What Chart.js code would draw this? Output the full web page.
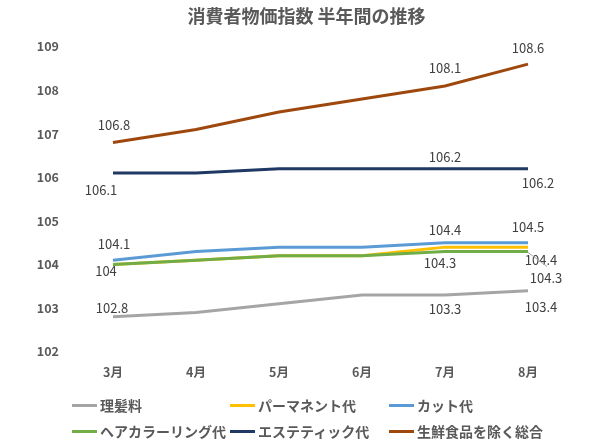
<!DOCTYPE html>
<html>
<head>
<meta charset="utf-8">
<script src="https://cdn.jsdelivr.net/npm/chart.js@4.4.1/dist/chart.umd.min.js"></script>
<style>
  body { margin: 0; background: #fff; }
  #wrap { position: relative; width: 600px; height: 446px; overflow: hidden; }
  #chart { position: absolute; left: 0; top: 0; }
  #title {
    position: absolute; left: 0; top: 5px; width: 613px; text-align: center;
    font: bold 18px/20px "Noto Sans CJK JP", sans-serif; color: #595959;
  }
  .lg {
    position: absolute; display: flex; align-items: center; height: 20px;
    font: bold 14px/20px "Noto Sans CJK JP", sans-serif; color: #595959; white-space: nowrap;
  }
  .lg i { display: inline-block; width: 25px; height: 3px; margin-right: 3px; }
</style>
</head>
<body>
<div id="wrap">
  <canvas id="chart" width="600" height="446"></canvas>
  <div id="title">消費者物価指数 半年間の推移</div>
  <div id="legend"></div>
</div>
<script>
(function () {
  'use strict';

  const months = ['3月', '4月', '5月', '6月', '7月', '8月'];
  const yTicks = [102, 103, 104, 105, 106, 107, 108, 109];

  const rihatsu = [102.8, 102.9, 103.1, 103.3, 103.3, 103.4];
  const permanent = [104.0, 104.1, 104.2, 104.2, 104.4, 104.4];
  const cut = [104.1, 104.3, 104.4, 104.4, 104.5, 104.5];
  const coloring = [104.0, 104.1, 104.2, 104.2, 104.3, 104.3];
  const esthe = [106.1, 106.1, 106.2, 106.2, 106.2, 106.2];
  const sogo = [106.8, 107.1, 107.5, 107.8, 108.1, 108.6];

  // where each value label sits relative to its point (null = no label)
  const series = [
    { label: '理髪料', data: rihatsu, color: '#a5a5a5', order: 6,
      tags: [[-1, -9], null, null, null, [0, 14], [13, 16]] },
    { label: 'パーマネント代', data: permanent, color: '#ffc000', order: 5,
      tags: [null, null, null, null, [0, -17], [13, 13]] },
    { label: 'カット代', data: cut, color: '#5b9bd5', order: 4,
      tags: [[1, -16], null, null, null, null, [0, -16]] },
    { label: 'ヘアカラーリング代', data: coloring, color: '#70ad47', order: 3,
      tags: [[-7, 7], null, null, null, [-5, 12], [18, 27, true]] },
    { label: 'エステティック代', data: esthe, color: '#203864', order: 2,
      tags: [[-12, 17], null, null, null, [0, -12], [10, 14]] },
    { label: '生鮮食品を除く総合', data: sogo, color: '#9e480e', order: 1,
      tags: [[1, -17], null, null, null, [0, -18], [0, -16]] },
  ];

  const valueLabels = {
    id: 'valueLabels',
    afterDatasetsDraw(chart) {
      const ctx = chart.ctx;
      ctx.save();
      ctx.font = '13px "Noto Sans CJK JP", sans-serif';
      ctx.fillStyle = '#404040';
      ctx.textAlign = 'center';
      ctx.textBaseline = 'middle';
      chart.data.datasets.forEach((ds, i) => {
        const meta = chart.getDatasetMeta(i);
        ds.tags.forEach((t, j) => {
          if (!t) return;
          const p = meta.data[j];
          if (t[2]) {
            ctx.strokeStyle = '#a6a6a6';
            ctx.lineWidth = 1;
            ctx.beginPath();
            ctx.moveTo(p.x, p.y + 1);
            ctx.lineTo(p.x + t[0] + 1, p.y + t[1] - 12);
            ctx.stroke();
          }
          ctx.fillText(String(ds.data[j]), p.x + t[0], p.y + t[1]);
        });
      });
      ctx.restore();
    },
  };

  new Chart(document.getElementById('chart'), {
    type: 'line',
    data: {
      labels: months,
      datasets: series.map(s => ({
        label: s.label,
        data: s.data,
        tags: s.tags,
        order: s.order,
        borderColor: s.color,
        backgroundColor: s.color,
        borderWidth: 3,
        pointRadius: 0,
        tension: 0,
      })),
    },
    options: {
      responsive: false,
      animation: false,
      layout: { padding: { left: 0, right: 30.5, top: 46.7, bottom: 54.3 } },
      plugins: {
        legend: { display: false },
        tooltip: { enabled: false },
      },
      scales: {
        x: {
          offset: true,
          grid: { display: false, drawTicks: false },
          border: { display: false },
          ticks: {
            color: '#595959',
            padding: 13,
            font: { family: '"Noto Sans CJK JP"', size: 12.5, weight: 'bold' },
          },
          afterFit(scale) { scale.height = 40; },
        },
        y: {
          min: yTicks[0],
          max: yTicks[yTicks.length - 1],
          grid: { display: false, drawTicks: false },
          border: { display: false },
          afterBuildTicks(scale) { scale.ticks = yTicks.map(v => ({ value: v })); },
          ticks: {
            color: '#595959',
            padding: 12.5,
            font: { family: '"Noto Sans CJK JP"', size: 12.5, weight: 'bold' },
          },
          afterFit(scale) { scale.width = 71.5; },
        },
      },
    },
    plugins: [valueLabels],
  });

  // legend laid out in three columns like the original
  const cols = [72, 230, 389];
  const rows = [395, 421];
  const legend = document.getElementById('legend');
  series.forEach((s, i) => {
    const el = document.createElement('div');
    el.className = 'lg';
    el.style.left = cols[i % 3] + 'px';
    el.style.top = rows[Math.floor(i / 3)] + 'px';
    el.innerHTML = '<i style="background:' + s.color + '"></i>' + s.label;
    legend.appendChild(el);
  });
})();
</script>
</body>
</html>
